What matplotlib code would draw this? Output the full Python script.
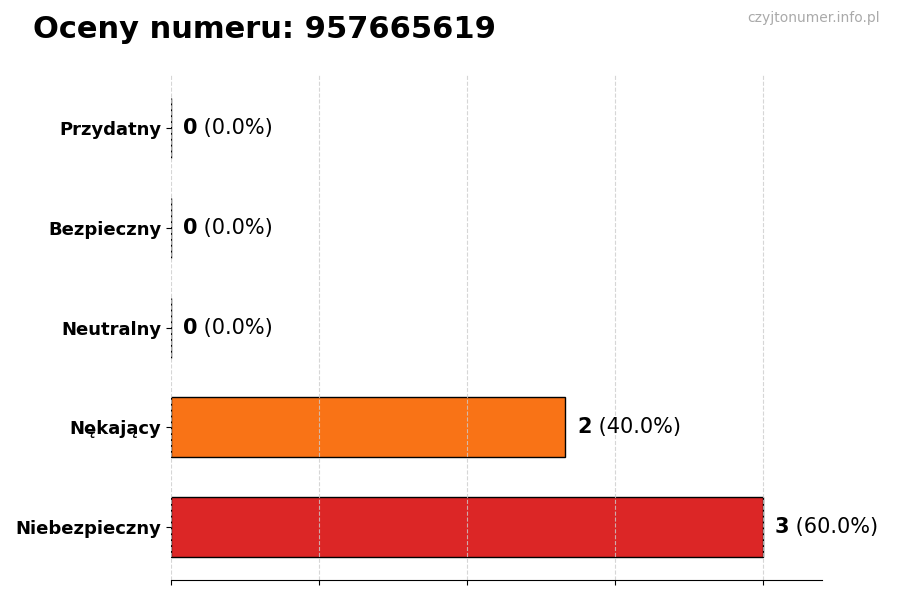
import matplotlib.pyplot as plt

# Dane z wykresu
categories = ["Przydatny", "Bezpieczny", "Neutralny", "Nękający", "Niebezpieczny"]
counts = [0, 0, 0, 2, 3]
colors = ["#22c55e", "#84cc16", "#eab308", "#f97316", "#dc2626"]
number = "957665619"

total = sum(counts)
# od dołu do góry
cats = categories[::-1]
vals = counts[::-1]
cols = colors[::-1]

fig = plt.figure(figsize=(9, 6), dpi=100)
ax = fig.add_axes([0.19, 0.033, 0.723, 0.842])

pos = list(range(len(cats)))
ax.barh(pos, vals, height=0.6, color=cols, edgecolor="black", linewidth=1)
ax.set_xlim(0, max(vals) * 1.1)
ax.set_yticks(pos)
ax.set_yticklabels(cats, fontsize=13, fontweight="bold")
ax.set_xticks([0, 0.75, 1.5, 2.25, 3.0])
ax.set_xticklabels([])
ax.grid(axis="x", linestyle="--", color="#cccccc", alpha=0.8)

for s in ["top", "right", "left"]:
    ax.spines[s].set_visible(False)

# Etykiety wartości
for y, v in zip(pos, vals):
    pct = v / total * 100
    t = ax.annotate(str(v), (v, y), xytext=(8.5, 0), textcoords="offset points",
                    va="center", ha="left", fontsize=15, fontweight="bold")
    ax.annotate(f" ({pct:.1f}%)", xy=(1, 0.5), xycoords=t, va="center", ha="left",
                fontsize=15)

fig.text(0.037, 0.95, f"Oceny numeru: {number}", fontsize=22, fontweight="bold",
         ha="left", va="center")
fig.text(0.978, 0.97, "czyjtonumer.info.pl", fontsize=10, color="#aaaaaa",
         ha="right", va="center")

fig.savefig("out.png", dpi=100)
